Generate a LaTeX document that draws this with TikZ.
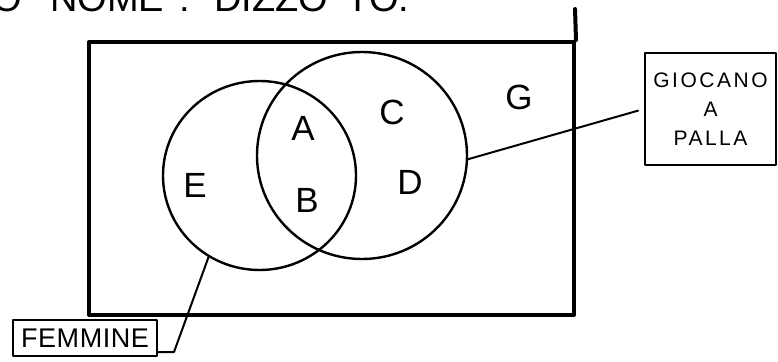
\documentclass[tikz,border=0pt]{standalone}
\usepackage{fontspec}
\setmainfont{Liberation Sans}
\usetikzlibrary{shapes.geometric}
\begin{document}
\begin{tikzpicture}[x=1pt,y=-1pt, line cap=round, line join=round,
  frame/.style={draw, line width=4pt},
  setshape/.style={draw, ellipse, line width=2.4pt, inner sep=0pt},
  lbl/.style={font=\fontsize{35}{35}\selectfont, inner sep=0pt},
  tag/.style={draw, line width=2.4pt, inner sep=0pt},
  link/.style={line width=2pt},
  head/.style={anchor=base, inner sep=0pt, font=\fontsize{38}{38}\selectfont}]
\useasboundingbox (0,0) rectangle (778,361);

% clipped heading at the top
\node[head] (h1) at (7,12) {O};
\node[head] (h2) at (107,12) {NOME};
\node[head] (h3) at (185,12) {:};
\node[head] (h4) at (271,12) {DIZZO};
\node[head] (h5) at (378,12) {TO.};

% universe frame
\node[frame, minimum width=485pt, minimum height=273pt, anchor=north west] (U) at (87,40) {};
\draw[frame] (U.north east) -- ++(-1,-31);

% sets
\node[setshape, minimum width=193pt, minimum height=189pt] (E) at (259.5,175.5) {};
\node[setshape, minimum width=210pt, minimum height=207pt] (P) at (362,155.5) {};

% region labels
\node[lbl] (la) at (303,128) {A};
\node[lbl] (lb) at (307,200) {B};
\node[lbl] (lc) at (392,112) {C};
\node[lbl] (ld) at (410,182) {D};
\node[lbl] (le) at (195,185) {E};
\node[lbl] (lg) at (519,97) {G};

% tags
\node[tag, minimum width=131pt, minimum height=112pt, align=center,
      font=\fontsize{21}{29}\selectfont\addfontfeature{LetterSpace=12}] (gp) at (710.5,109) {GIOCANO\\A\\PALLA};
\node[tag, minimum width=144pt, minimum height=36pt,
      font=\fontsize{27}{27}\selectfont\addfontfeature{LetterSpace=2}] (fm) at (85,338) {FEMMINE};

% connectors
\coordinate (bend) at (174,352);
\draw[link] (E.238) -- (bend) -- (fm.east |- bend);
\draw[link, shorten >=6pt] (P.-2) -- (gp.west);
\end{tikzpicture}
\end{document}
